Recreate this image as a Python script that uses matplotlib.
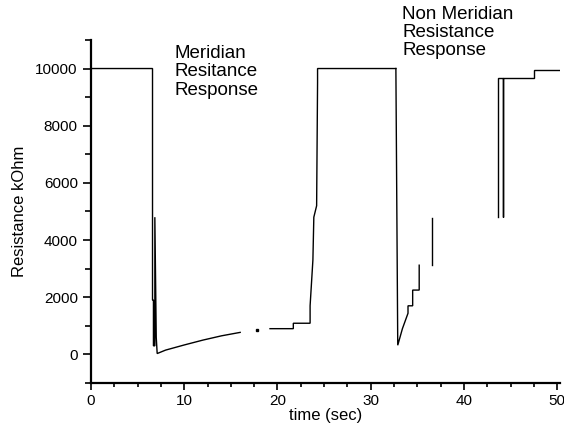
"""Meridian vs non-meridian skin resistance response trace."""

import matplotlib

matplotlib.use("Agg")
import matplotlib.pyplot as plt
import numpy as np

plt.rcParams["font.family"] = ["Liberation Sans", "DejaVu Sans"]

# trace segments: time (sec), resistance (kOhm)
meridian_t = [0.0, 6.6, 6.6, 6.7, 6.7, 6.85, 6.85, 7.0, 7.1, 8.0, 10.0, 12.0, 14.0, 16.0]
meridian_r = [10000, 10000, 1900, 1900, 300, 300, 4800, 600, 30, 150, 330, 500, 650, 770]

meridian_dots_t = [17.8]
meridian_dots_r = [850]

meridian_rise_t = [19.2, 21.7, 21.7, 23.5, 23.5, 23.8, 23.9, 24.2, 24.3, 24.3, 32.7]
meridian_rise_r = [900, 900, 1090, 1090, 1700, 3300, 4800, 5200, 9500, 10000, 10000]

non_meridian_t = [32.7, 32.9, 33.4, 34.0, 34.0, 34.5, 34.5, 35.2, 35.2]
non_meridian_r = [10000, 320, 900, 1440, 1700, 1700, 2250, 2250, 3120]

non_meridian_jump_t = [36.6, 36.6]
non_meridian_jump_r = [3120, 4770]

recovery_t = [43.6, 43.6, 44.2, 44.2, 44.2, 47.5, 47.5, 50.2]
recovery_r = [4800, 9680, 9680, 4800, 9680, 9680, 9960, 9960]

x_major = [0, 10, 20, 30, 40, 50]
y_major = [0, 2000, 4000, 6000, 8000, 10000]

fig = plt.figure(figsize=(5.64, 4.37), dpi=100)
ax = fig.add_axes([0.1613, 0.1236, 0.8316, 0.785])

line_kw = dict(color="black", lw=1.0, solid_joinstyle="miter")
ax.plot(meridian_t, meridian_r, **line_kw)
ax.plot(meridian_dots_t, meridian_dots_r, "s", color="black", ms=1.5)
ax.plot(meridian_rise_t, meridian_rise_r, **line_kw)
ax.plot(non_meridian_t, non_meridian_r, **line_kw)
ax.plot(non_meridian_jump_t, non_meridian_jump_r, **line_kw)
ax.plot(recovery_t, recovery_r, **line_kw)

ax.set_xlim(0, 50.3)
ax.set_ylim(-1000, 11000)
ax.set_xticks(x_major)
ax.set_xticks(np.arange(0, 50.1, 2.5), minor=True)
ax.set_yticks(y_major)
ax.set_yticks(np.arange(-1000, 11001, 1000), minor=True)
ax.tick_params(axis="both", which="both", direction="out", labelsize=11, width=1.2)
ax.tick_params(axis="y", which="major", length=6)
ax.tick_params(axis="y", which="minor", length=4)
ax.tick_params(axis="x", which="major", length=5, pad=3)
ax.tick_params(axis="x", which="minor", length=3)

for side in ("top", "right"):
    ax.spines[side].set_visible(False)
ax.spines["left"].set_linewidth(1.6)
ax.spines["bottom"].set_linewidth(1.6)

ax.set_xlabel("time (sec)", fontsize=12, labelpad=0)
ax.set_ylabel("Resistance kOhm", fontsize=12, labelpad=6)

ax.text(9.0, 10840, "Meridian\nResitance\nResponse", fontsize=13.5,
        va="top", ha="left", linespacing=1.15)
ax.text(33.4, 12200, "Non Meridian\nResistance\nResponse", fontsize=13.5,
        va="top", ha="left", linespacing=1.08, clip_on=False)

fig.savefig("out.png", dpi=100)
